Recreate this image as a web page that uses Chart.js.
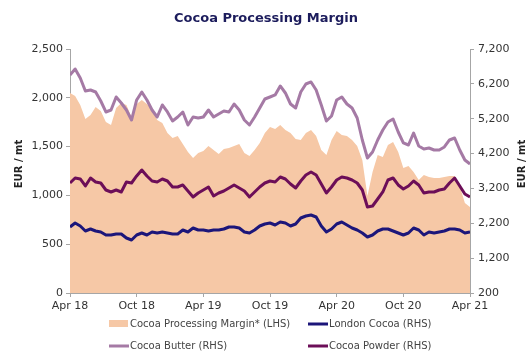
<!DOCTYPE html>
<html>
<head>
<meta charset="utf-8">
<script src="https://cdn.jsdelivr.net/npm/chart.js@4/dist/chart.umd.min.js"></script>
<style>
  html, body { margin: 0; padding: 0; background: #ffffff; }
  #wrap { width: 532px; height: 351px; }
</style>
</head>
<body>
<div id="wrap"><canvas id="c" width="532" height="351"></canvas></div>
<script>
// Weeks since the start of April 2018 (fortnightly observations)
const weeks = [0,2,4,6,8,10,12,14,16,18,20,22,24,26,28,30,32,34,36,38,40,42,44,46,48,50,52,54,56,58,60,62,64,66,68,70,72,74,76,78,80,82,84,86,88,90,92,94,96,98,100,102,104,106,108,110,112,114,116,118,120,122,124,126,128,130,132,134,136,138,140,142,144,146,148,150,152,154,156];

// x-axis tick labels, one every 26 weeks
const tickLabels = ['Apr 18', 'Oct 18', 'Apr 19', 'Oct 19', 'Apr 20', 'Oct 20', 'Apr 21'];

// EUR / mt
const processingMargin = [2049,2018,1926,1783,1824,1906,1865,1752,1721,1896,1947,1926,1803,1936,1977,1936,1885,1773,1742,1639,1588,1609,1527,1445,1383,1434,1455,1506,1465,1424,1475,1486,1506,1527,1434,1404,1465,1537,1639,1701,1680,1721,1670,1639,1578,1568,1639,1670,1609,1465,1414,1568,1660,1619,1609,1568,1506,1363,994,1240,1414,1393,1516,1547,1445,1281,1301,1240,1158,1209,1189,1178,1178,1189,1199,1199,1096,922,881];
const cocoaButter = [6454,6627,6368,5995,6024,5967,5708,5393,5450,5823,5651,5450,5163,5737,5967,5737,5450,5249,5594,5393,5135,5249,5393,5020,5249,5220,5249,5450,5249,5336,5421,5393,5622,5450,5163,5020,5249,5508,5766,5823,5881,6139,5938,5622,5508,5967,6196,6254,6024,5594,5135,5278,5737,5823,5622,5508,5220,4590,4073,4245,4590,4876,5106,5192,4819,4504,4446,4790,4418,4331,4360,4303,4303,4389,4590,4647,4303,4016,3901];
const cocoaPowder = [3356,3499,3471,3270,3499,3385,3356,3155,3098,3155,3098,3385,3356,3557,3729,3557,3413,3385,3471,3413,3241,3241,3299,3126,2954,3069,3155,3241,2983,3069,3126,3212,3299,3212,3126,2954,3098,3241,3356,3413,3385,3528,3471,3327,3212,3413,3585,3671,3585,3327,3069,3241,3442,3528,3499,3442,3356,3155,2667,2696,2897,3098,3442,3499,3299,3184,3270,3413,3299,3069,3098,3098,3155,3184,3356,3499,3270,3040,2954];
const londonCocoa = [2094,2208,2122,1979,2036,1979,1950,1864,1864,1893,1893,1778,1721,1864,1921,1864,1950,1921,1950,1921,1893,1893,2007,1950,2065,2007,2007,1979,2007,2007,2036,2094,2094,2065,1950,1921,2007,2122,2180,2208,2151,2237,2208,2122,2180,2352,2409,2438,2381,2122,1950,2036,2180,2237,2151,2065,2007,1921,1807,1864,1979,2036,2036,1979,1921,1864,1921,2065,2007,1864,1950,1921,1950,1979,2036,2036,2007,1921,1950];

const toPoints = (vals) => vals.map((v, i) => ({ x: weeks[i], y: v }));

const FONT = "'DejaVu Sans', Verdana, sans-serif";
const AXIS_GREY = '#a6a6a6';
const TEXT_GREY = '#333333';

const COLORS = {
  margin: 'rgb(246,200,166)',
  london: 'rgb(28,22,122)',
  butter: 'rgb(165,122,165)',
  powder: 'rgb(108,14,88)'
};

// Legend laid out in two fixed columns under the x axis
const gridLegend = {
  id: 'gridLegend',
  afterDraw(chart) {
    const ctx = chart.ctx;
    const ds = chart.data.datasets;
    const cols = [109, 308];
    const rows = [324, 346];
    const slots = [
      { d: ds[0], c: 0, r: 0 },
      { d: ds[1], c: 1, r: 0 },
      { d: ds[2], c: 0, r: 1 },
      { d: ds[3], c: 1, r: 1 }
    ];
    ctx.save();
    ctx.font = '10px ' + FONT;
    ctx.textBaseline = 'middle';
    ctx.textAlign = 'left';
    slots.forEach(s => {
      const x = cols[s.c], y = rows[s.r];
      if (s.d.fill) {
        ctx.fillStyle = s.d.backgroundColor;
        ctx.fillRect(x, y - 4, 19, 7);
      } else {
        ctx.strokeStyle = s.d.borderColor;
        ctx.lineWidth = 3;
        ctx.beginPath();
        ctx.moveTo(x, y);
        ctx.lineTo(x + 20, y);
        ctx.stroke();
      }
      ctx.fillStyle = '#444444';
      ctx.fillText(s.d.label, x + 21, y);
    });
    ctx.restore();
  }
};

// Both value-axis titles read upwards
const axisTitles = {
  id: 'axisTitles',
  afterDraw(chart) {
    const ctx = chart.ctx;
    ctx.save();
    ctx.font = 'bold 10px ' + FONT;
    ctx.fillStyle = '#222222';
    ctx.textAlign = 'center';
    ctx.textBaseline = 'middle';
    [[19, 164], [522, 164]].forEach(([x, y]) => {
      ctx.save();
      ctx.translate(x, y);
      ctx.rotate(-Math.PI / 2);
      ctx.fillText('EUR / mt', 0, 0);
      ctx.restore();
    });
    ctx.restore();
  }
};

const yTick = (v) => Number(v).toLocaleString('en-US');

new Chart(document.getElementById('c'), {
  type: 'line',
  data: {
    datasets: [
      {
        label: 'Cocoa Processing Margin* (LHS)',
        data: toPoints(processingMargin),
        yAxisID: 'yL',
        fill: 'origin',
        backgroundColor: COLORS.margin,
        borderColor: COLORS.margin,
        borderWidth: 0,
        pointRadius: 0,
        tension: 0,
        order: 10
      },
      {
        label: 'London Cocoa (RHS)',
        data: toPoints(londonCocoa),
        yAxisID: 'yR',
        fill: false,
        borderColor: COLORS.london,
        backgroundColor: COLORS.london,
        borderWidth: 3,
        pointRadius: 0,
        tension: 0,
        borderJoinStyle: 'round',
        order: 1
      },
      {
        label: 'Cocoa Butter (RHS)',
        data: toPoints(cocoaButter),
        yAxisID: 'yR',
        fill: false,
        borderColor: COLORS.butter,
        backgroundColor: COLORS.butter,
        borderWidth: 3,
        pointRadius: 0,
        tension: 0,
        borderJoinStyle: 'round',
        order: 3
      },
      {
        label: 'Cocoa Powder (RHS)',
        data: toPoints(cocoaPowder),
        yAxisID: 'yR',
        fill: false,
        borderColor: COLORS.powder,
        backgroundColor: COLORS.powder,
        borderWidth: 3,
        pointRadius: 0,
        tension: 0,
        borderJoinStyle: 'round',
        order: 2
      }
    ]
  },
  options: {
    responsive: false,
    devicePixelRatio: 1,
    animation: false,
    layout: { padding: { top: 0, left: 0, right: 0, bottom: 36 } },
    plugins: {
      legend: { display: false },
      tooltip: { enabled: false },
      title: {
        display: true,
        text: 'Cocoa Processing Margin',
        color: '#1c1c5c',
        font: { family: FONT, size: 13, weight: 'bold', lineHeight: 1.2 },
        padding: { top: 11, bottom: 22.4 }
      }
    },
    scales: {
      x: {
        type: 'linear',
        min: 0,
        max: 156,
        afterFit: (s) => { s.height = 22; },
        border: { display: true, color: AXIS_GREY },
        grid: { display: true, drawOnChartArea: false, drawTicks: true, tickLength: 4, color: AXIS_GREY },
        ticks: {
          stepSize: 26,
          autoSkip: false,
          maxRotation: 0,
          padding: 3,
          color: TEXT_GREY,
          font: { family: FONT, size: 11 },
          callback: (v) => tickLabels[Math.round(v / 26)] || ''
        }
      },
      yL: {
        type: 'linear',
        position: 'left',
        min: 0,
        max: 2500,
        afterFit: (s) => { s.width = 70; },
        border: { display: true, color: AXIS_GREY },
        grid: { display: true, drawOnChartArea: false, drawTicks: true, tickLength: 4, color: AXIS_GREY },
        ticks: {
          stepSize: 500,
          padding: 3,
          color: TEXT_GREY,
          font: { family: FONT, size: 11 },
          callback: yTick
        }
      },
      yR: {
        type: 'linear',
        position: 'right',
        min: 200,
        max: 7200,
        afterFit: (s) => { s.width = 62; },
        border: { display: true, color: AXIS_GREY },
        grid: { display: true, drawOnChartArea: false, drawTicks: true, tickLength: 4, color: AXIS_GREY },
        ticks: {
          stepSize: 1000,
          padding: 4,
          color: TEXT_GREY,
          font: { family: FONT, size: 11 },
          callback: yTick
        }
      }
    }
  },
  plugins: [gridLegend, axisTitles]
});
</script>
</body>
</html>
